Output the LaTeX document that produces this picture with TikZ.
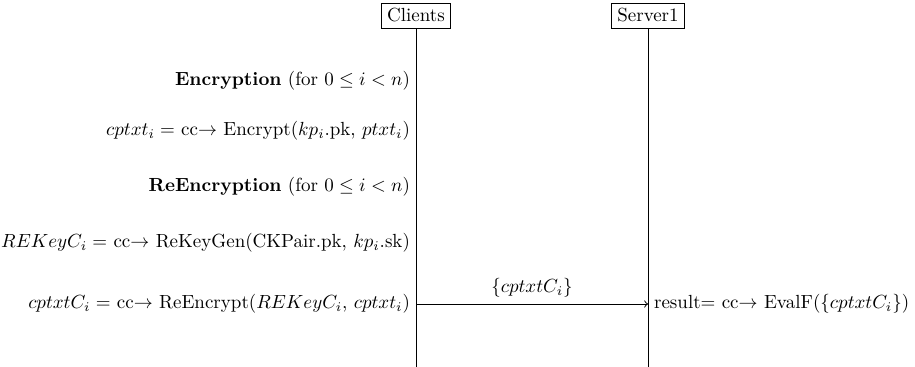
\documentclass[tikz,border=0pt]{standalone}
\usepackage{amsmath}
\begin{document}
\begin{tikzpicture}[x=0.5263pt,y=-0.5263pt,
  actor/.style={draw,fill=white,inner sep=3pt},
  lifeline/.style={line width=0.5pt},
  msg/.style={->,line width=0.5pt},
  lefttext/.style={anchor=east,inner sep=3pt},
  righttext/.style={anchor=west,inner sep=3pt}]
\useasboundingbox (0,0) rectangle (915,367);
% actors
\node[actor] (c) at (416,15.5) {Clients};
\node[actor] (s) at (648,15.5) {Server1};
\coordinate (cb) at (416,367);
\coordinate (sb) at (648,367);
\draw[lifeline] (c.south) -- (cb);
\draw[lifeline] (s.south) -- (sb);
% rows on clients lifeline
\coordinate (c1) at (416,81);
\coordinate (c2) at (416,131);
\coordinate (c3) at (416,187);
\coordinate (c4) at (416,243);
\coordinate (c5) at (416,304);
\coordinate (s5) at (648,304);
\node[lefttext] (t1) at (c1) {\textbf{Encryption} (for $0 \le i < n$)};
\node[lefttext] (t2) at (c2) {$cptxt_i =$ cc$\rightarrow$ Encrypt($kp_i$.pk, $ptxt_i$)};
\node[lefttext] (t3) at (c3) {\textbf{ReEncryption} (for $0 \le i < n$)};
\node[lefttext] (t4) at (c4) {$REKeyC_i =$ cc$\rightarrow$ ReKeyGen(CKPair.pk, $kp_i$.sk)};
\node[lefttext] (t5) at (c5) {$cptxtC_i =$ cc$\rightarrow$ ReEncrypt($REKeyC_i$, $cptxt_i$)};
\draw[msg] (c5) -- node[above] (m) {$\{cptxtC_i\}$} (s5);
\node[righttext] (r) at (s5) {result$=$ cc$\rightarrow$ EvalF($\{cptxtC_i\}$)};
\end{tikzpicture}
\end{document}
